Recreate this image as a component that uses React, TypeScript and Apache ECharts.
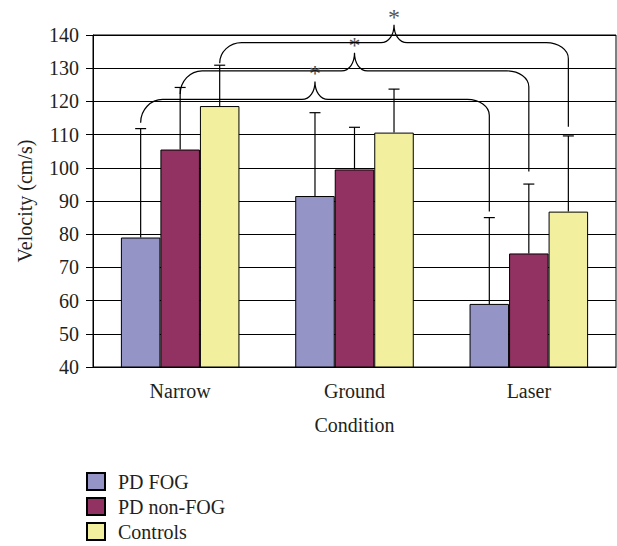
import React, { useEffect, useRef } from "react";
import * as echarts from "echarts";

const categories = ["Narrow", "Ground", "Laser"];
const seriesNames = ["PD FOG", "PD non-FOG", "Controls"];
const pdFog = [79, 91.5, 59];
const pdNonFog = [105.5, 99.5, 74.2];
const controls = [118.6, 110.6, 86.8];
const pdFogUpper = [111.8, 116.6, 85];
const pdNonFogUpper = [124.2, 112.2, 95.1];
const controlsUpper = [130.9, 123.7, 109.6];

// significance brackets: from a Narrow bar to the matching Laser bar
const bracketFromCat = [0, 0, 0];
const bracketFromSeries = [0, 1, 2];
const bracketToCat = [2, 2, 2];
const bracketToSeries = [0, 1, 2];
const bracketStartValues = [113.6, 122.2, 131.5];
const bracketLevels = [120.6, 129.2, 137.7];
const bracketEndValues = [86.8, 98.9, 112.4];
const bracketLabels = ["*", "*", "*"];

const COLORS = ["#9494C6", "#923262", "#F2F09E"];
const FONT = "Liberation Serif";
const TEXT = "#231F20";
const FS = 20;
const N_SERIES = 3;
const CAT_GAP = 0.32;

function barX(api: any, cat: number, s: number) {
  const band = api.size([1, 0])[0];
  const bw = (band * (1 - CAT_GAP)) / N_SERIES;
  const cx = api.coord([cat, 40])[0];
  return cx + (s - (N_SERIES - 1) / 2) * bw;
}

export default function App() {
  const ref = useRef<HTMLDivElement>(null);
  useEffect(() => {
    if (!ref.current) return;
    const chart = echarts.init(ref.current, null, { renderer: "svg" });
    const means = [pdFog, pdNonFog, controls];
    const uppers = [pdFogUpper, pdNonFogUpper, controlsUpper];
    const errData: any[] = [];
    means.forEach((arr, s) =>
      arr.forEach((v, c) => errData.push([c, s, v, uppers[s][c]]))
    );
    const brData = bracketLevels.map((lv, i) => [
      bracketFromCat[i],
      bracketFromSeries[i],
      bracketToCat[i],
      bracketToSeries[i],
      bracketStartValues[i],
      lv,
      bracketEndValues[i],
      i,
    ]);

    const option: any = {
      animation: false,
      textStyle: { fontFamily: FONT, color: TEXT },
      grid: {
        left: 93,
        right: 1,
        top: 35,
        bottom: 179,
        show: true,
        borderColor: "#000",
        borderWidth: 1,
        backgroundColor: "transparent",
      },
      legend: {
        orient: "vertical",
        left: 86,
        top: 471.5,
        padding: 0,
        height: 74,
        itemWidth: 18,
        itemHeight: 17,
        itemGap: 5,
        icon: "rect",
        selectedMode: false,
        data: seriesNames,
        textStyle: {
          fontFamily: FONT,
          fontSize: FS,
          lineHeight: 20,
          color: TEXT,
          padding: [0, 0, 0, 8],
        },
      },
      xAxis: {
        type: "category",
        data: categories,
        name: "Condition",
        nameLocation: "middle",
        nameGap: 48,
        nameTextStyle: { fontFamily: FONT, fontSize: FS, color: TEXT },
        axisLine: { lineStyle: { color: "#000", width: 1 } },
        axisTick: { length: 7, lineStyle: { color: "#000" } },
        axisLabel: { fontFamily: FONT, fontSize: FS, color: TEXT, margin: 14 },
        splitLine: { show: false },
      },
      yAxis: {
        type: "value",
        min: 40,
        max: 140,
        interval: 10,
        name: "Velocity (cm/s)",
        nameLocation: "middle",
        nameGap: 58,
        nameTextStyle: { fontFamily: FONT, fontSize: FS, color: TEXT },
        axisLine: { show: true, lineStyle: { color: "#000", width: 1 } },
        axisTick: { show: true, length: 7, lineStyle: { color: "#000" } },
        axisLabel: { fontFamily: FONT, fontSize: FS, color: TEXT, margin: 14 },
        splitLine: { show: true, lineStyle: { color: "#000", width: 1 } },
      },
      series: [
        ...means.map((arr, s) => ({
          type: "bar",
          name: seriesNames[s],
          data: arr,
          barGap: "0%",
          barCategoryGap: CAT_GAP * 100 + "%",
          itemStyle: { color: COLORS[s], borderColor: "#000", borderWidth: 1 },
          z: 2,
        })),
        {
          type: "custom",
          name: "err",
          data: errData,
          encode: { x: 0, y: 3 },
          z: 3,
          silent: true,
          renderItem: (params: any, api: any) => {
            const c = api.value(0);
            const s = api.value(1);
            const x = barX(api, c, s);
            const y0 = api.coord([c, api.value(2)])[1];
            const y1 = api.coord([c, api.value(3)])[1];
            const st = { stroke: "#000", lineWidth: 1.2 };
            return {
              type: "group",
              children: [
                { type: "line", shape: { x1: x, y1: y0, x2: x, y2: y1 }, style: st },
                { type: "line", shape: { x1: x - 5.5, y1: y1, x2: x + 5.5, y2: y1 }, style: st },
              ],
            };
          },
        },
        {
          type: "custom",
          name: "brackets",
          data: brData,
          encode: { x: 0, y: 5 },
          clip: false,
          z: 4,
          silent: true,
          renderItem: (params: any, api: any) => {
            const x0 = barX(api, api.value(0), api.value(1));
            const x1 = barX(api, api.value(2), api.value(3));
            const y0 = api.coord([0, api.value(4)])[1];
            const yL = api.coord([0, api.value(5)])[1];
            const yE = api.coord([0, api.value(6)])[1];
            const idx = api.value(7);
            const xm = (x0 + x1) / 2;
            const rL = 22;
            const rR = 22;
            const dR = 16;
            const bw = 13;
            const bh = 18;
            const k = 0.55;
            const dyL = y0 - yL;
            const d = [
              `M ${x0} ${y0}`,
              `C ${x0} ${y0 - k * dyL} ${x0 + rL - k * rL} ${yL} ${x0 + rL} ${yL}`,
              `L ${xm - bw} ${yL}`,
              `C ${xm - 5} ${yL} ${xm} ${yL - 8} ${xm} ${yL - bh}`,
              `C ${xm} ${yL - 8} ${xm + 5} ${yL} ${xm + bw} ${yL}`,
              `L ${x1 - rR} ${yL}`,
              `C ${x1 - rR + k * rR} ${yL} ${x1} ${yL + dR - k * dR} ${x1} ${yL + dR}`,
              `L ${x1} ${yE}`,
            ].join(" ");
            return {
              type: "group",
              children: [
                {
                  type: "path",
                  shape: { pathData: d },
                  style: { stroke: "#000", fill: "none", lineWidth: 1.2 },
                },
                {
                  type: "text",
                  x: xm,
                  y: yL - 14,
                  style: {
                    text: bracketLabels[idx],
                    fontFamily: FONT,
                    fontSize: 24,
                    fill: "#555",
                    textAlign: "center",
                    textVerticalAlign: "bottom",
                  },
                },
              ],
            };
          },
        },
      ],
    };
    chart.setOption(option);
    return () => chart.dispose();
  }, []);
  return (
    <div
      ref={ref}
      style={{ position: "absolute", left: 0, top: 0, width: 617, height: 546 }}
    />
  );
}
